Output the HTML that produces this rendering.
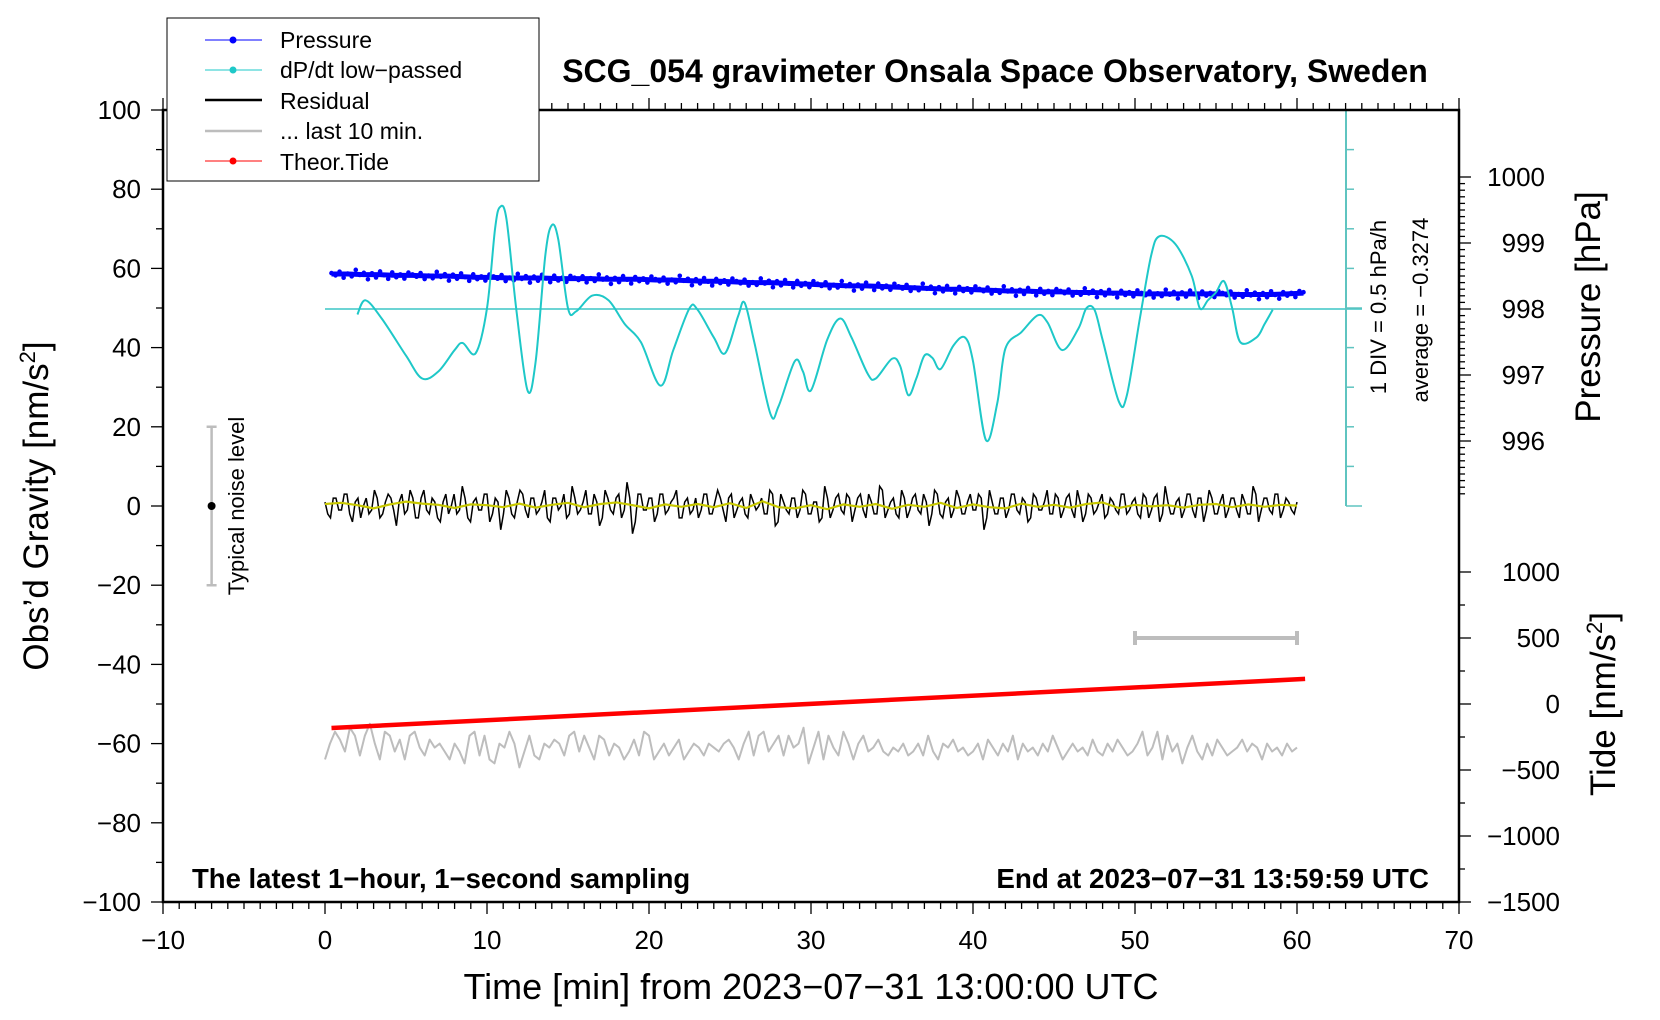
<!DOCTYPE html>
<html><head><meta charset="utf-8">
<style>
html,body{margin:0;padding:0;background:#fff;}
svg{display:block;font-family:"Liberation Sans",sans-serif;}
</style></head>
<body>
<svg id="chart" width="1660" height="1020" viewBox="0 0 1660 1020">
<g id="marks"></g>
<g id="axes"></g>
</svg>
<script>
// ---- data ----
const xTicks = [-10,0,10,20,30,40,50,60,70];
const yTicks = [100,80,60,40,20,0,-20,-40,-60,-80,-100];
const pTicks = [1000,999,998,997,996];
const tideTicks = [1000,500,0,-500,-1000,-1500];
const dpdtTime = [2,2.5,3.5,5,6,7,8,8.5,9.3,10,10.5,10.8,11.2,11.8,12.5,13,13.6,14,14.4,15,15.5,16.5,17.5,18.5,19.5,20.7,21.5,22.5,23,24,24.7,25.5,25.9,26.5,27.5,28,29,29.5,30,31,31.8,32.5,33.5,34,35,35.5,36,36.5,37,37.5,38,38.8,39.5,40,40.8,41.5,42,43,44,44.6,45.5,46.5,47,47.5,48,49,49.5,50.3,51,51.5,52.5,53.5,54,54.5,55,55.5,56,56.5,57.5,58,58.5];
const dpdtVal = [-0.07,0.11,-0.12,-0.59,-0.88,-0.79,-0.52,-0.43,-0.56,0.01,1.02,1.29,1.14,0.01,-1.03,-0.67,0.68,1.06,0.88,0.01,-0.03,0.17,0.11,-0.19,-0.42,-0.97,-0.52,0.01,-0.01,-0.36,-0.56,-0.09,0.08,-0.42,-1.33,-1.23,-0.66,-0.79,-1.03,-0.39,-0.12,-0.36,-0.82,-0.88,-0.63,-0.72,-1.09,-0.88,-0.59,-0.62,-0.76,-0.46,-0.36,-0.66,-1.66,-1.19,-0.5,-0.29,-0.08,-0.17,-0.52,-0.25,0.01,-0.01,-0.39,-1.17,-1.09,-0.12,0.68,0.92,0.82,0.42,0.01,0.11,0.21,0.35,0.01,-0.42,-0.36,-0.19,-0.01];
const pressure = [998.53,998.53,998.52,998.52,998.51,998.51,998.50,998.50,998.49,998.48,998.48,998.47,998.47,998.47,998.46,998.46,998.46,998.45,998.45,998.45,998.44,998.44,998.43,998.42,998.42,998.41,998.40,998.40,998.39,998.38,998.37,998.36,998.35,998.35,998.34,998.33,998.32,998.31,998.30,998.30,998.29,998.28,998.27,998.27,998.26,998.26,998.25,998.25,998.24,998.24,998.23,998.23,998.23,998.23,998.23,998.23,998.22,998.22,998.22,998.23,998.24];
const pressScatter = [0.02,-0.03,0.05,-0.08,0.01,-0.05,0.09,-0.02,0.04,-0.1,0.03,-0.06,0.07,-0.01,-0.09,0.05,-0.04,0.02,-0.07,0.06];
const residual = [1,-3,2,-1,3,-4,2,0,-2,4,-3,1,2,-5,3,-1,2,-3,4,-2,1,-4,3,0,-2,5,-3,1,-1,3,-4,2,-6,4,-2,1,3,-3,2,-1,4,-4,2,0,-3,5,-2,1,-2,3,-5,4,-1,2,-3,6,-7,3,-1,2,-4,3,-2,1,4,-3,2,-1,-3,3,-2,1,2,-4,3,-1,2,-3,1,0,-2,4,-5,3,-1,2,-3,4,-2,1,-4,5,-3,2,-1,3,-4,2,-1,3,-2,5,-3,1,-2,4,-3,2,-1,3,-5,4,-2,1,-3,4,-2,1,-1,3,-6,4,-2,2,-3,3,-1,2,-4,3,-1,1,-2,3,-3,2,-1,4,-4,3,-2,1,-3,2,-1,3,-2,1,-2,3,-3,2,-4,5,-2,1,-3,3,-1,2,-4,4,-2,1,-3,2,-1,3,-2,5,-4,2,-1,3,-3,2,-1,1];
const residual2 = [-2,2,-1,3,-2,1,-3,2,-1,2,-2,3,-1,1,-2,4,-3,2,-1,2,-3,1,-2,3,-1,2,-4,2,-1,3,-2,1,-2,2,-3,4,-1,2,-2,1,-3,2,-1,3,-2,2,-1,4,-2,1,-3,2,-2,3,-1,2,-4,3,-1,2,-2,3,-1,2,-3,1,-2,2,-1,3,-2,4,-1,2,-3,1,-2,3,-1,2,-2,3,-4,1,-2,2,-1,3,-2,1,-3,2,-1,3,-2,2,-1,3,-3,1,-2,4,-1,2,-3,2,-1,3,-2,1,-2,3,-3,2,-1,2,-2,3,-1,2,-3,1,-2,2,-1,3,-2,1,-3,2,-1,4,-2,2,-1,3,-3,1,-2,2,-1,3,-2,1,-2,3,-1,2,-3,2,-1,3,-2,1,-2,2,-1,3,-3,2,-1,2,-2,3,-1,2,-3,1,-2,3,-1,2,-2,3,-1,1,-2,2,-1];
const residSmooth = [0.5,0.8,0.2,-0.6,0.4,1.1,0.6,0.3,-0.5,0.4,0.2,-0.3,0.6,-0.4,0.3,0.8,-0.3,0.5,0.9,0.2,-0.6,0.4,-0.2,0.5,-0.3,0.7,-0.5,1.2,-0.3,-0.6,0.2,-0.8,0.4,-0.2,0.5,-0.7,0.3,-0.2,0.8,-0.5,0.4,-0.3,-0.6,0.6,-0.2,0.3,-0.4,0.5,0.9,-0.5,0.3,-0.1,0.2,-0.4,0.3,0.5,-0.3,0.4,-0.2,0.3,0.1];
const lastTen = [-64,-60,-57,-59,-62,-56,-58,-63,-58,-55,-60,-64,-57,-58,-62,-59,-64,-58,-57,-61,-63,-59,-61,-60,-62,-64,-60,-62,-65,-58,-57,-63,-58,-64,-65,-60,-61,-57,-60,-66,-62,-58,-63,-64,-60,-61,-59,-60,-63,-58,-57,-62,-58,-61,-64,-58,-59,-63,-60,-61,-64,-62,-59,-63,-57,-58,-64,-62,-60,-63,-61,-59,-64,-62,-60,-61,-63,-60,-61,-62,-60,-59,-61,-64,-60,-57,-63,-58,-57,-62,-60,-58,-63,-58,-61,-60,-56,-65,-61,-57,-64,-58,-61,-63,-57,-60,-64,-60,-58,-62,-61,-59,-62,-63,-61,-62,-60,-63,-62,-60,-63,-58,-62,-64,-60,-61,-59,-62,-61,-63,-62,-60,-64,-59,-61,-63,-60,-62,-58,-64,-60,-62,-61,-63,-60,-62,-58,-61,-64,-62,-60,-62,-61,-63,-59,-62,-63,-60,-62,-59,-61,-63,-62,-60,-57,-63,-61,-57,-64,-58,-62,-60,-65,-61,-58,-62,-64,-60,-63,-59,-61,-63,-62,-61,-59,-62,-60,-61,-64,-60,-62,-61,-63,-60,-62,-61];
const tideTime = [0.4,60.5];
const tideVal = [-182,190];

// ---- scales ----
const L=163,R=1459,T=110,B=902;
const X = m => L + (m+10)*(R-L)/80;
const Y = v => B - (v+100)*(B-T)/200;
const P = p => 309 - (p-998)*66;
const D = v => 309 - v/0.5*39.5;
const TD = t => 704 - t*0.132;
const NS='http://www.w3.org/2000/svg';
const marks=document.getElementById('marks'), axes=document.getElementById('axes');
function mk(tag,attrs,parent){const e=document.createElementNS(NS,tag);for(const k in attrs)e.setAttribute(k,attrs[k]);parent.appendChild(e);return e;}
function txt(s,attrs,parent){const e=mk('text',attrs,parent);e.textContent=s;return e;}

let e;
e=mk('line',{x1:1346,y1:T,x2:1346,y2:506,stroke:'#5fc4c0','stroke-width':2},axes);


for(let k=0;k<=10;k++){
  e=mk('line',{x1:1346,y1:T+k*39.6,x2:k==0||k==5||k==10?1362:1354,y2:T+k*39.6,stroke:'#5fc4c0','stroke-width':1.5},axes);
  
  
}
e=mk('line',{x1:325,y1:309,x2:1362,y2:309,stroke:'#3cc6c6','stroke-width':1.5},marks);



// pressure
pressure.forEach((p,i)=>{
  for(let j=0;j<4;j++){
    const t=i+0.4+j*0.25;
    if(t>60.5)continue;
    const s=pressScatter[(i*4+j)%pressScatter.length];
    const c=mk('circle',{cx:X(t),cy:P(p+s*0.7),r:2.3,fill:'#0000ff'},marks);
    
    
  }
});
e=mk('polyline',{points:pressure.map((p,i)=>X(Math.min(60.5,i+0.4))+','+P(p)).join(' '),fill:'none',stroke:'#0000ff','stroke-width':5},marks);



// dP/dt smooth curve
(function(){
  const pts=dpdtTime.map((t,i)=>[X(t),D(dpdtVal[i])]);
  let d='M'+pts[0][0]+','+pts[0][1];
  for(let i=0;i<pts.length-1;i++){
    const p0=pts[Math.max(0,i-1)],p1=pts[i],p2=pts[i+1],p3=pts[Math.min(pts.length-1,i+2)];
    d+=' C'+(p1[0]+(p2[0]-p0[0])/6)+','+(p1[1]+(p2[1]-p0[1])/6)+' '+(p2[0]-(p3[0]-p1[0])/6)+','+(p2[1]-(p3[1]-p1[1])/6)+' '+p2[0]+','+p2[1];
  }
  const c=mk('path',{d:d,fill:'none',stroke:'#1ec8c8','stroke-width':2},marks);
  
  
})();

// residual (two interleaved sample sets)
(function(){
  const n=residual.length, pts=[];
  for(let i=0;i<n;i++){
    pts.push(X(i*60/(n-1))+','+Y(residual[i]));
    if(i<n-1) pts.push(X((i+0.5)*60/(n-1))+','+Y(residual2[i%residual2.length]));
  }
  const c=mk('polyline',{points:pts.join(' '),fill:'none',stroke:'#000','stroke-width':1.5},marks);
  
  
})();
e=mk('polyline',{points:residSmooth.map((v,i)=>X(i*60/(residSmooth.length-1))+','+Y(v)).join(' '),fill:'none',stroke:'#c8c800','stroke-width':2.2},marks);



e=mk('polyline',{points:lastTen.map((v,i)=>X(i*60/(lastTen.length-1))+','+Y(v)).join(' '),fill:'none',stroke:'#bdbdbd','stroke-width':2,'stroke-linejoin':'round'},marks);



e=mk('polyline',{points:tideTime.map((t,i)=>X(t)+','+TD(tideVal[i])).join(' '),fill:'none',stroke:'#ff0000','stroke-width':4.5},marks);



e=mk('path',{d:`M${X(50)},638 H${X(60)} M${X(50)},631 V645 M${X(60)},631 V645`,stroke:'#bdbdbd','stroke-width':4,fill:'none'},marks);



e=mk('path',{d:`M${X(-7)},${Y(20)} V${Y(-20)} M${X(-7)-5},${Y(20)} H${X(-7)+5} M${X(-7)-5},${Y(-20)} H${X(-7)+5}`,stroke:'#bdbdbd','stroke-width':2.5,fill:'none'},marks);


e=mk('circle',{cx:X(-7),cy:Y(0),r:4,fill:'#000'},marks);


e=txt('Typical noise level',{x:0,y:0,'font-size':22,'text-anchor':'middle',transform:`translate(244,${Y(0)}) rotate(-90)`},marks);



e=mk('rect',{x:L,y:T,width:R-L,height:B-T,fill:'none',stroke:'#000','stroke-width':2.5},axes);



for(let m=-10;m<=70;m++){
  const maj=m%10==0;
  mk('line',{x1:X(m),y1:B,x2:X(m),y2:B+(maj?12:7),stroke:'#000','stroke-width':1.3},axes);
  mk('line',{x1:X(m),y1:T,x2:X(m),y2:T-(maj?12:7),stroke:'#000','stroke-width':1.3},axes);
}
xTicks.forEach(m=>{
  const t=txt(String(m).replace('-','\u2212'),{x:X(m),y:B+47,'font-size':26,'text-anchor':'middle'},axes);
  
  
});
for(let v=-100;v<=100;v+=10){
  mk('line',{x1:L,y1:Y(v),x2:L-(v%20==0?12:7),y2:Y(v),stroke:'#000','stroke-width':1.3},axes);
}
yTicks.forEach(v=>{
  const t=txt(String(v).replace('-','\u2212'),{x:141,y:Y(v)+9,'font-size':26,'text-anchor':'end'},axes);
  
  
});
for(let k=0;k<=48;k++){
  const p=995.2+k*0.1, y=P(p);
  if(y<T||y>505)continue;
  const maj=Math.abs(p-Math.round(p))<0.01;
  mk('line',{x1:R,y1:y,x2:R+(maj?12:6),y2:y,stroke:'#000','stroke-width':1.3},axes);
}
pTicks.forEach(p=>{
  const t=txt(String(p),{x:1545,y:P(p)+9,'font-size':26,'text-anchor':'end'},axes);
  
  
});
for(let v=-1500;v<=1000;v+=250){
  mk('line',{x1:R,y1:TD(v),x2:R+(v%500==0?12:6),y2:TD(v),stroke:'#000','stroke-width':1.3},axes);
}
tideTicks.forEach(v=>{
  const t=txt(String(v).replace('-','\u2212'),{x:1560,y:TD(v)+9,'font-size':26,'text-anchor':'end'},axes);
  
  
});
</script>

<svg width="1660" height="1020" style="position:absolute;left:0;top:0" font-family="Liberation Sans, sans-serif">
<text x="995" y="82" font-size="32" font-weight="bold" text-anchor="middle">SCG_054 gravimeter Onsala Space Observatory, Sweden</text>
<text x="811" y="999" font-size="36" text-anchor="middle">Time [min] from 2023−07−31 13:00:00 UTC</text>
<text transform="translate(48,506) rotate(-90)" font-size="35" text-anchor="middle">Obs’d Gravity [nm/s<tspan font-size="22" dy="-13">2</tspan><tspan dy="13">]</tspan></text>
<text transform="translate(1600,307) rotate(-90)" font-size="35" text-anchor="middle">Pressure [hPa]</text>
<text transform="translate(1615,704) rotate(-90)" font-size="35" text-anchor="middle">Tide [nm/s<tspan font-size="22" dy="-13">2</tspan><tspan dy="13">]</tspan></text>
<text transform="translate(1386,307) rotate(-90)" font-size="22" text-anchor="middle">1 DIV = 0.5 hPa/h</text>
<text transform="translate(1428,310) rotate(-90)" font-size="22" text-anchor="middle">average = −0.3274</text>
<text x="192" y="888" font-size="27.5" font-weight="bold">The latest 1−hour, 1−second sampling</text>
<text x="1429" y="888" font-size="27.8" font-weight="bold" text-anchor="end">End at 2023−07−31 13:59:59 UTC</text>
<g>
<rect x="167" y="18" width="372" height="163" fill="#fff" stroke="#000" stroke-width="1"/>
<line x1="205" y1="40" x2="262" y2="40" stroke="#0000ff"/><circle cx="233" cy="40" r="3.5" fill="#0000ff"/>
<text x="280" y="48" font-size="23">Pressure</text>
<line x1="205" y1="70" x2="262" y2="70" stroke="#1ec8c8"/><circle cx="233" cy="70" r="3.5" fill="#1ec8c8"/>
<text x="280" y="78" font-size="23">dP/dt low−passed</text>
<line x1="205" y1="100" x2="262" y2="100" stroke="#000" stroke-width="2.5"/>
<text x="280" y="109" font-size="23">Residual</text>
<line x1="205" y1="131" x2="262" y2="131" stroke="#bdbdbd" stroke-width="2.5"/>
<text x="280" y="139" font-size="23">... last 10 min.</text>
<line x1="205" y1="161" x2="262" y2="161" stroke="#ff0000"/><circle cx="233" cy="161" r="3.5" fill="#ff0000"/>
<text x="280" y="170" font-size="23">Theor.Tide</text>
</g>
</svg>
</body></html>
